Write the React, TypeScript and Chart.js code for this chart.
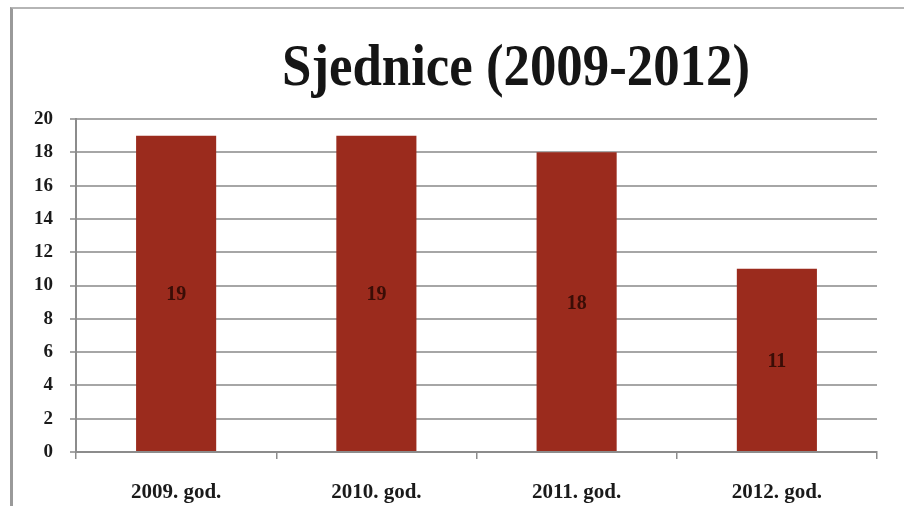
import React, { useEffect, useRef } from "react";
import { Chart, registerables } from "chart.js";

Chart.register(...registerables);

const categories = ["2009. god.", "2010. god.", "2011. god.", "2012. god."];
const sessions = [19, 19, 18, 11];
const titleText = "Sjednice (2009-2012)";
const yMin = 0;
const yMax = 20;
const yStep = 2;

const SERIF = '"Liberation Serif", "Times New Roman", serif';

const titlePlugin = {
  id: "customTitle",
  afterDraw(chart: any) {
    const ctx = chart.ctx;
    ctx.save();
    ctx.font = `bold 54px ${SERIF}`;
    ctx.fillStyle = "#151515";
    ctx.textAlign = "center";
    ctx.textBaseline = "alphabetic";
    const w = ctx.measureText(titleText).width;
    const sx = 468 / w;
    ctx.translate(516, 85);
    ctx.scale(sx, 1.1);
    ctx.fillText(titleText, 0, 0);
    ctx.restore();
  },
};

const valueLabelPlugin = {
  id: "valueLabels",
  afterDatasetsDraw(chart: any) {
    const ctx = chart.ctx;
    const meta = chart.getDatasetMeta(0);
    const data = chart.data.datasets[0].data as number[];
    ctx.save();
    ctx.font = `bold 20px ${SERIF}`;
    ctx.fillStyle = "#3a0d06";
    ctx.textAlign = "center";
    ctx.textBaseline = "middle";
    meta.data.forEach((bar: any, i: number) => {
      const { x, y, base } = bar.getProps(["x", "y", "base"], true);
      ctx.fillText(String(data[i]), x, (y + base) / 2 + 2);
    });
    ctx.restore();
  },
};

export default function App() {
  const ref = useRef<HTMLCanvasElement | null>(null);

  useEffect(() => {
    if (!ref.current) return;
    const chart = new Chart(ref.current, {
      type: "bar",
      data: {
        labels: categories,
        datasets: [
          {
            data: sessions,
            backgroundColor: "#9b2b1d",
            borderWidth: 0,
            barPercentage: 0.4,
            categoryPercentage: 1,
          },
        ],
      },
      options: {
        animation: false,
        responsive: false,
        maintainAspectRatio: false,
        layout: { padding: { top: 119, right: 27, left: 0, bottom: 0 } },
        plugins: {
          legend: { display: false },
          title: { display: false },
          tooltip: { enabled: false },
        },
        scales: {
          x: {
            afterFit(scale: any) {
              scale.height = 54;
            },
            grid: {
              offset: true,
              drawOnChartArea: false,
              drawTicks: true,
              tickLength: 7,
              color: "#8c8c8c",
              lineWidth: 1.5,
            },
            border: { color: "#8c8c8c", width: 2 },
            ticks: {
              color: "#1a1a1a",
              font: { family: SERIF, size: 21, weight: "bold" },
              padding: 21,
              maxRotation: 0,
            },
          },
          y: {
            min: yMin,
            max: yMax,
            afterFit(scale: any) {
              scale.width = 76;
            },
            grid: {
              color: "#a6a6a6",
              lineWidth: 2,
              tickLength: 6,
            },
            border: { color: "#8c8c8c", width: 2 },
            ticks: {
              stepSize: yStep,
              color: "#1a1a1a",
              font: { family: SERIF, size: 19, weight: "bold" },
              padding: 17,
            },
          },
        },
      },
      plugins: [titlePlugin, valueLabelPlugin],
    });
    return () => chart.destroy();
  }, []);

  return (
    <div
      style={{
        position: "fixed",
        left: 0,
        top: 0,
        width: 904,
        height: 506,
        background: "#ffffff",
        overflow: "hidden",
      }}
    >
      <canvas ref={ref} width={904} height={506} style={{ display: "block" }} />
      <div
        style={{
          position: "absolute",
          left: 10,
          top: 7,
          width: 904,
          height: 506,
          borderLeft: "3px solid #9a9a9a",
          borderTop: "2px solid #b5b5b5",
          pointerEvents: "none",
        }}
      />
    </div>
  );
}
